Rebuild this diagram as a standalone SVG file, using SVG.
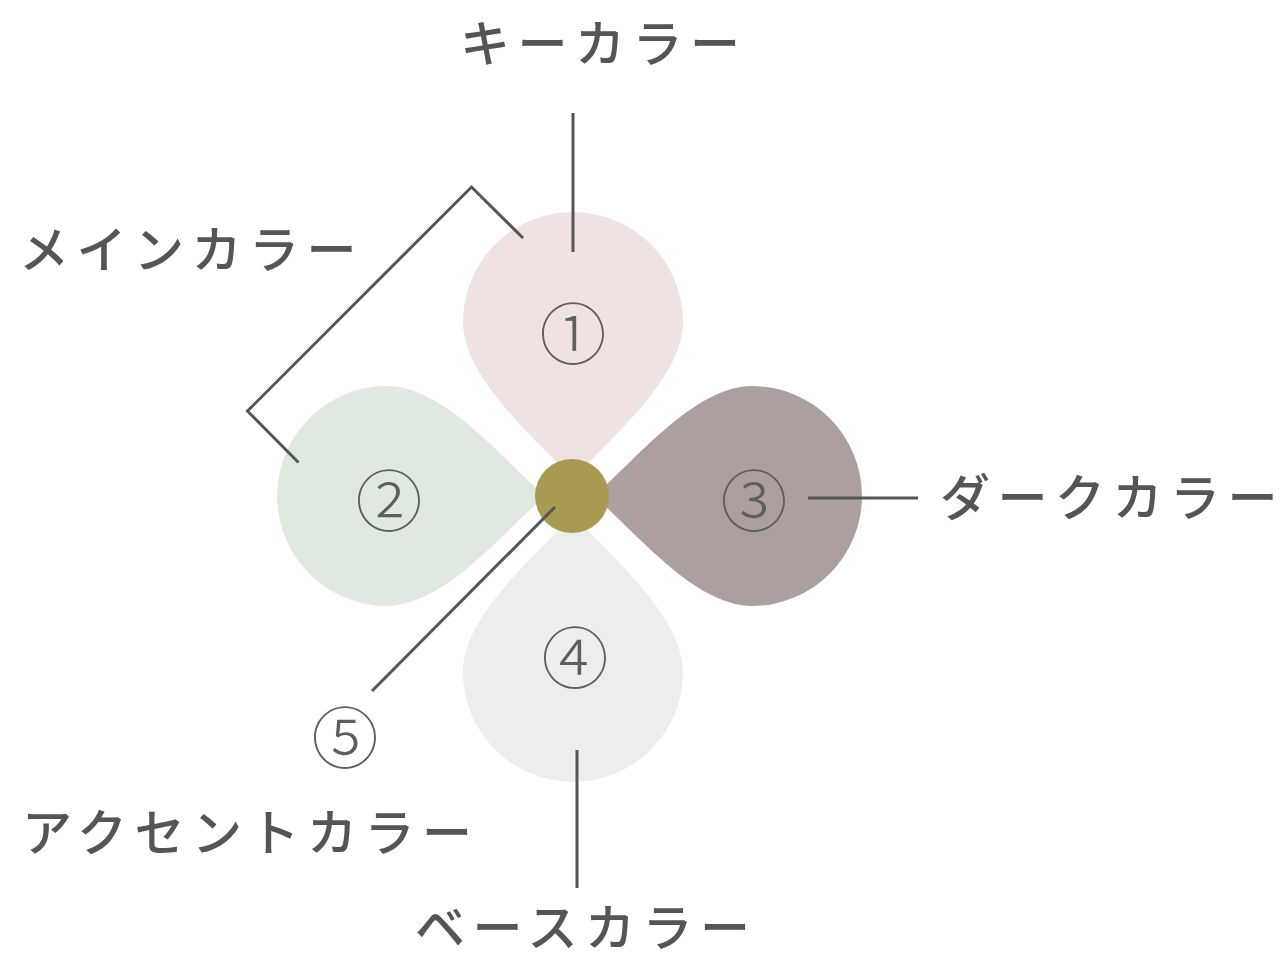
<svg xmlns="http://www.w3.org/2000/svg" width="1283" height="958" viewBox="0 0 1283 958">
  <style>
    .lbl { font-family: "Noto Sans CJK JP", "Noto Sans", sans-serif; font-size: 50px; font-weight: 500; fill: #555555; letter-spacing: 7.5px; }
    .num { font-family: "Noto Sans CJK JP", "Noto Sans", sans-serif; font-size: 67px; font-weight: 300; fill: #5e5e5e; text-anchor: middle; dominant-baseline: central; }
    .ln { stroke: #555555; stroke-width: 3; fill: none; stroke-linecap: butt; stroke-linejoin: miter; }
  </style>
  <defs>
    <path id="petal" d="M 0,158 C -33,119 -110,58 -110,0 A 110 110 0 0 1 110,0 C 110,58 33,119 0,158 Z"/>
  </defs>
  <rect width="1283" height="958" fill="#ffffff"/>

  <g id="petal1">
    <use href="#petal" transform="translate(573,322)" fill="#EFE2E1"/>
    <text class="num" x="573" y="329">①</text>
  </g>
  <g id="petal2">
    <use href="#petal" transform="translate(387,496) rotate(-90)" fill="#DFE9E0"/>
    <text class="num" x="389" y="496">②</text>
  </g>
  <g id="petal3">
    <use href="#petal" transform="translate(752,496) rotate(90)" fill="#AE9F9F"/>
    <text class="num" x="754" y="496">③</text>
  </g>
  <g id="petal4">
    <use href="#petal" transform="translate(573,672) rotate(180)" fill="#EDEDED"/>
    <text class="num" x="575" y="653">④</text>
  </g>
  <g id="center">
    <circle cx="572" cy="496" r="37" fill="#A89A52"/>
  </g>
  <g id="accent-num">
    <text class="num" x="345" y="733">⑤</text>
  </g>

  <g id="connectors">
    <line class="ln" x1="573" y1="113" x2="573" y2="252"/>
    <polyline class="ln" points="523,238 471.5,187 247.5,411 298.5,462.5"/>
    <line class="ln" x1="808" y1="498" x2="918" y2="498"/>
    <line class="ln" x1="555" y1="507" x2="372" y2="691"/>
    <line class="ln" x1="577" y1="750" x2="577" y2="888"/>
  </g>

  <g id="labels">
    <text class="lbl" x="460" y="62">キーカラー</text>
    <text class="lbl" x="19" y="268">メインカラー</text>
    <text class="lbl" x="940" y="516">ダークカラー</text>
    <text class="lbl" x="22" y="851">アクセントカラー</text>
    <text class="lbl" x="415" y="946">ベースカラー</text>
  </g>
</svg>
